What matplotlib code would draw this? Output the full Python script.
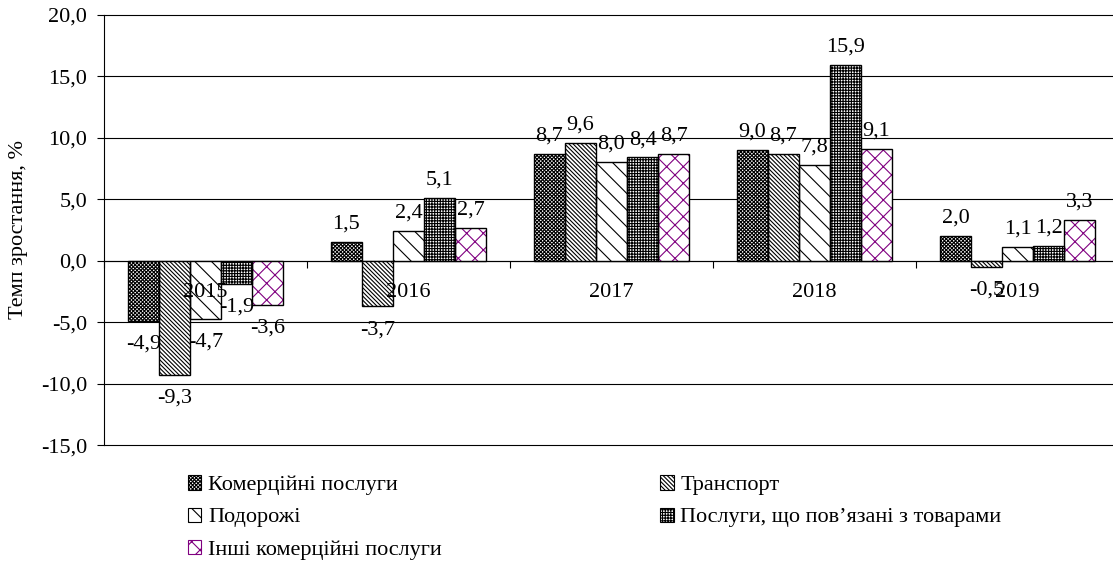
import numpy as np
import matplotlib
matplotlib.use('Agg')
import matplotlib.pyplot as plt
from matplotlib.patches import Patch

plt.rcParams['font.family'] = ['Liberation Serif', 'DejaVu Serif']
plt.rcParams['font.size'] = 16
plt.rcParams['hatch.linewidth'] = 0.8

years = ['2015', '2016', '2017', '2018', '2019']
series = ['Комерційні послуги', 'Транспорт', 'Подорожі',
          'Послуги, що пов’язані з товарами', 'Інші комерційні послуги']
values = [
    [-4.9, 1.5, 8.7, 9.0, 2.0],
    [-9.3, -3.7, 9.6, 8.7, -0.5],
    [-4.7, 2.4, 8.0, 7.8, 1.1],
    [-1.9, 5.1, 8.4, 15.9, 1.2],
    [-3.6, 2.7, 8.7, 9.1, 3.3],
]
hatches = ['x' * 9, '\\' * 8, '\\\\', '+' * 6, 'xx']
hcolors = ['black', 'black', 'black', 'black', '#800080']

fig = plt.figure(figsize=(11.13, 5.7), dpi=100)
# plot area runs a little past the right edge of the picture
ax = fig.add_axes([0.0934, 0.219, 0.912, 0.755])

x = np.arange(len(years))
w = 0.153
handles = []
for i, (name, vals) in enumerate(zip(series, values)):
    pos = x + (i - 2) * w
    ax.bar(pos, vals, w, color='white', edgecolor=hcolors[i],
           hatch=hatches[i], linewidth=0, zorder=3)
    ax.bar(pos, vals, w, fill=False, edgecolor='black', linewidth=1.0, zorder=4)
    for xp, v in zip(pos, vals):
        lab = ('%.1f' % v).replace('.', ',')
        if v >= 0:
            ax.annotate(lab, (xp, v), xytext=(0, 6), textcoords='offset points',
                        ha='center', va='bottom', zorder=5)
        else:
            ax.annotate(lab, (xp, v), xytext=(0, -10), textcoords='offset points',
                        ha='center', va='top', zorder=5)
    handles.append(Patch(facecolor='white', edgecolor=hcolors[i],
                         hatch=hatches[i], linewidth=0.8, label=name))

# category labels sit below the zero line, drawn over the bars
for xi, yr in zip(x, years):
    ax.annotate(yr, (xi, 0), xytext=(0, -16), textcoords='offset points',
                ha='center', va='top', zorder=6)

ax.set_xlim(-0.5, 4.5)
ax.set_ylim(-15, 20)
yt = np.arange(-15, 20.1, 5)
ax.set_yticks(yt)
ax.set_yticklabels([('%.1f' % t).replace('.', ',') for t in yt])
ax.yaxis.grid(True, color='black', linewidth=0.8)
for gl in ax.get_ygridlines():
    gl.set_clip_on(False)
ax.set_axisbelow(True)
ax.set_ylabel('Темп зростання, %')
ax.yaxis.set_label_coords(-0.075, 0.5)
ax.tick_params(axis='y', length=5, width=0.8, pad=7)

for s in ['top', 'right']:
    ax.spines[s].set_visible(False)
ax.spines['bottom'].set_position(('data', 0))
ax.spines['left'].set_linewidth(0.8)
ax.set_xticks([])
ax.set_xticks(np.arange(-0.5, 4.6, 1), minor=True)
ax.tick_params(axis='x', which='minor', length=5, width=0.8)

order = [0, 2, 4, 1, 3]
fig.legend([handles[k] for k in order], [series[k] for k in order],
           ncol=2, loc='upper left', bbox_to_anchor=(0.151, 0.201),
           frameon=False, handlelength=0.6, handleheight=0.6,
           handletextpad=0.3, labelspacing=0.55, columnspacing=9.84)

fig.savefig('out.png', dpi=100)
